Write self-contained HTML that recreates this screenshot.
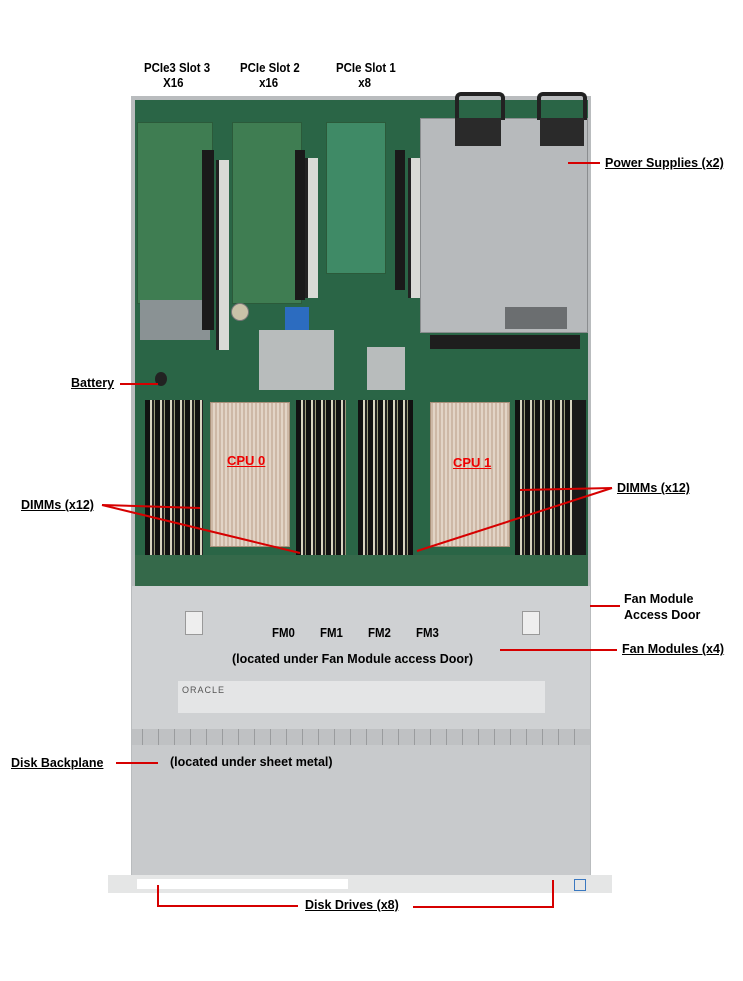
<!DOCTYPE html>
<html><head><meta charset="utf-8">
<style>
body{margin:0;background:#fff;}
#c{position:relative;width:743px;height:981px;overflow:hidden;background:#fff;font-family:"Liberation Sans",Arial,sans-serif;}
.a{position:absolute;}
.t{position:absolute;font-weight:bold;font-size:13px;color:#000;white-space:nowrap;transform-origin:0 0;transform:scaleX(0.88);}
.s{position:absolute;font-weight:bold;font-size:12.5px;color:#000;white-space:nowrap;}
.u{text-decoration:underline;}
.dimm{position:absolute;background:repeating-linear-gradient(90deg,#111 0 5px,#d8d4c0 5px 7px,#222 7px 9px,#9a9a7a 9px 10px);}
.hs{position:absolute;background:repeating-linear-gradient(90deg,#cdb8a6 0 2px,#e2d4c6 2px 4px);border:1px solid #a8907a;}
.card{position:absolute;background:#3f7d52;border:1px solid #2b5a3a;}
.riser{position:absolute;background:#d9dbd6;border-left:3px solid #222;}
</style></head><body>
<div id="c">
<div class="a" style="left:131px;top:96px;width:460px;height:792px;background:#b9bcbe;"></div>
<div class="a" style="left:135px;top:100px;width:453px;height:486px;background:#2a6546;"></div>
<div class="a" style="left:135px;top:555px;width:453px;height:31px;background:#35694a;"></div>
<div class="card" style="left:137px;top:122px;width:74px;height:180px;"></div>
<div class="card" style="left:232px;top:122px;width:68px;height:180px;"></div>
<div class="card" style="left:326px;top:122px;width:58px;height:150px;background:#3f8a66;"></div>
<div class="a" style="left:140px;top:300px;width:70px;height:40px;background:#8a9294;"></div>
<div class="riser" style="left:216px;top:160px;width:10px;height:190px;"></div>
<div class="riser" style="left:305px;top:158px;width:10px;height:140px;"></div>
<div class="riser" style="left:408px;top:158px;width:9px;height:140px;"></div>
<div class="a" style="left:202px;top:150px;width:12px;height:180px;background:#1a1a1a;"></div>
<div class="a" style="left:295px;top:150px;width:10px;height:150px;background:#1a1a1a;"></div>
<div class="a" style="left:395px;top:150px;width:10px;height:140px;background:#1a1a1a;"></div>
<div class="a" style="left:231px;top:303px;width:16px;height:16px;border-radius:50%;background:#c9c2a8;border:1px solid #777;"></div>
<div class="a" style="left:285px;top:307px;width:24px;height:24px;background:#2c6cc0;"></div>
<div class="a" style="left:155px;top:372px;width:12px;height:14px;border-radius:50%;background:#222;"></div>
<div class="a" style="left:259px;top:330px;width:75px;height:60px;background:#b8bcbc;"></div>
<div class="a" style="left:367px;top:347px;width:38px;height:43px;background:#b8bcbc;"></div>
<div class="a" style="left:420px;top:118px;width:166px;height:213px;background:#b7babc;border:1px solid #8a8d8f;"></div>
<div class="a" style="left:505px;top:307px;width:62px;height:22px;background:#6b6e70;"></div>
<div class="a" style="left:455px;top:92px;width:42px;height:24px;border:4px solid #222;border-bottom:none;border-radius:6px 6px 0 0;"></div>
<div class="a" style="left:537px;top:92px;width:42px;height:24px;border:4px solid #222;border-bottom:none;border-radius:6px 6px 0 0;"></div>
<div class="a" style="left:455px;top:118px;width:46px;height:28px;background:#2a2a2a;"></div>
<div class="a" style="left:540px;top:118px;width:44px;height:28px;background:#2a2a2a;"></div>
<div class="a" style="left:430px;top:335px;width:150px;height:14px;background:#1e1e1e;"></div>
<div class="dimm" style="left:145px;top:400px;width:58px;height:155px;"></div>
<div class="dimm" style="left:296px;top:400px;width:50px;height:155px;"></div>
<div class="dimm" style="left:358px;top:400px;width:55px;height:155px;"></div>
<div class="dimm" style="left:515px;top:400px;width:57px;height:155px;"></div>
<div class="a" style="left:572px;top:400px;width:14px;height:155px;background:#1a1a1a;"></div>
<div class="hs" style="left:210px;top:402px;width:78px;height:143px;"></div>
<div class="hs" style="left:430px;top:402px;width:78px;height:143px;"></div>
<div class="a" style="left:227px;top:453px;font-weight:bold;font-size:13px;color:#e00;text-decoration:underline;">CPU 0</div>
<div class="a" style="left:453px;top:455px;font-weight:bold;font-size:13px;color:#e00;text-decoration:underline;">CPU 1</div>
<div class="a" style="left:132px;top:586px;width:458px;height:143px;background:#cfd1d3;"></div>
<div class="a" style="left:185px;top:611px;width:16px;height:22px;background:#eee;border:1px solid #999;"></div>
<div class="a" style="left:522px;top:611px;width:16px;height:22px;background:#eee;border:1px solid #999;"></div>
<div class="a" style="left:178px;top:681px;width:367px;height:32px;background:#e4e5e6;"></div>
<div class="a" style="left:182px;top:685px;font-size:9px;color:#555;letter-spacing:1px;">ORACLE</div>
<div class="a" style="left:132px;top:729px;width:458px;height:16px;background:repeating-linear-gradient(90deg,#bfc1c3 0 10px,#9a9c9e 10px 11px,#bfc1c3 11px 16px);"></div>
<div class="a" style="left:132px;top:745px;width:458px;height:132px;background:#c8cacc;"></div>
<div class="a" style="left:108px;top:875px;width:504px;height:18px;background:#e5e6e6;"></div>
<div class="a" style="left:137px;top:879px;width:110px;height:10px;background:#fff;"></div>
<div class="a" style="left:243px;top:879px;width:105px;height:10px;background:#fff;"></div>
<div class="a" style="left:574px;top:879px;width:10px;height:10px;border:1px solid #3a78c0;"></div>

<div class="t" style="left:272px;top:625px;">FM0</div>
<div class="t" style="left:320px;top:625px;">FM1</div>
<div class="t" style="left:368px;top:625px;">FM2</div>
<div class="t" style="left:416px;top:625px;">FM3</div>
<div class="s" style="left:232px;top:652px;">(located under Fan Module access Door)</div>
<div class="s" style="left:170px;top:755px;">(located under sheet metal)</div>

<div class="t" style="left:144px;top:60px;line-height:15px;">PCIe3 Slot 3<br>&nbsp;&nbsp;&nbsp;&nbsp;&nbsp;&nbsp;X16</div>
<div class="t" style="left:240px;top:60px;line-height:15px;">PCIe Slot 2<br>&nbsp;&nbsp;&nbsp;&nbsp;&nbsp;&nbsp;x16</div>
<div class="t" style="left:336px;top:60px;line-height:15px;">PCIe Slot 1<br>&nbsp;&nbsp;&nbsp;&nbsp;&nbsp;&nbsp;&nbsp;x8</div>

<div class="s u" style="left:605px;top:156px;">Power Supplies (x2)</div>
<div class="s u" style="left:71px;top:376px;">Battery</div>
<div class="s u" style="left:21px;top:498px;">DIMMs (x12)</div>
<div class="s u" style="left:617px;top:481px;">DIMMs (x12)</div>
<div class="s" style="left:624px;top:591px;line-height:16px;">Fan Module<br>Access Door</div>
<div class="s u" style="left:622px;top:642px;">Fan Modules (x4)</div>
<div class="s u" style="left:11px;top:756px;">Disk Backplane</div>
<div class="s u" style="left:305px;top:898px;">Disk Drives (x8)</div>

<svg class="a" style="left:0;top:0" width="743" height="981">
<g stroke="#d60000" stroke-width="2" fill="none">
<line x1="568" y1="163" x2="600" y2="163"/>
<line x1="120" y1="384" x2="158" y2="384"/>
<line x1="102" y1="505" x2="200" y2="508"/>
<line x1="102" y1="505" x2="300" y2="553"/>
<line x1="612" y1="488" x2="520" y2="490"/>
<line x1="612" y1="488" x2="417" y2="551"/>
<line x1="590" y1="606" x2="620" y2="606"/>
<line x1="500" y1="650" x2="617" y2="650"/>
<line x1="116" y1="763" x2="158" y2="763"/>
<polyline points="158,885 158,906 298,906"/>
<polyline points="413,907 553,907 553,880"/>
</g>
</svg>
</div>
</body></html>
